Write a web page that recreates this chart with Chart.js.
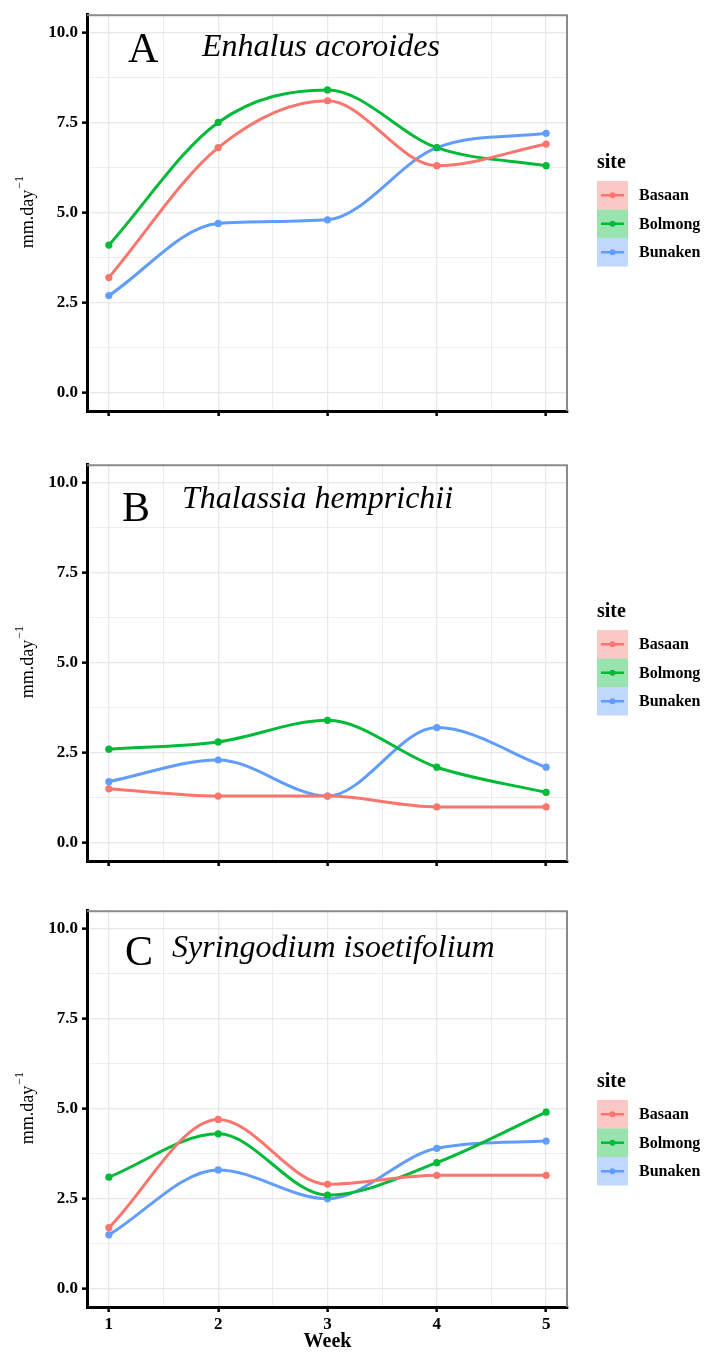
<!DOCTYPE html>
<html>
<head>
<meta charset="utf-8">
<script src="https://cdn.jsdelivr.net/npm/chart.js@4"></script>
<style>
  body { margin: 0; background: #fff; }
  #wrap { position: relative; width: 705px; height: 1354px; }
  canvas { position: absolute; left: 0; }
</style>
</head>
<body>
<div id="wrap">
  <canvas id="cA" width="705" height="450" style="top:0px"></canvas>
  <canvas id="cB" width="705" height="446" style="top:450px"></canvas>
  <canvas id="cC" width="705" height="458" style="top:896px"></canvas>
</div>
<script>
// weekly growth, mm/day
const weeks = [1, 2, 3, 4, 5];
const sites = ['Basaan', 'Bolmong', 'Bunaken'];
const siteColors = ['#F8766D', '#00BA38', '#619CFF'];
const siteFills = ['rgba(248,118,109,0.4)', 'rgba(0,186,56,0.4)', 'rgba(97,156,255,0.4)'];

// A  Enhalus acoroides
const basaanA = [3.2, 6.8, 8.1, 6.3, 6.9];
const bolmongA = [4.1, 7.5, 8.4, 6.8, 6.3];
const bunakenA = [2.7, 4.7, 4.8, 6.8, 7.2];
// B  Thalassia hemprichii
const basaanB = [1.5, 1.3, 1.3, 1.0, 1.0];
const bolmongB = [2.6, 2.8, 3.4, 2.1, 1.4];
const bunakenB = [1.7, 2.3, 1.3, 3.2, 2.1];
// C  Syringodium isoetifolium
const basaanC = [1.7, 4.7, 2.9, 3.15, 3.15];
const bolmongC = [3.1, 4.3, 2.6, 3.5, 4.9];
const bunakenC = [1.5, 3.3, 2.5, 3.9, 4.1];

// ticks (major + minor grid)
const xTicks = [1, 1.5, 2, 2.5, 3, 3.5, 4, 4.5, 5];
const yTicks = [0, 1.25, 2.5, 3.75, 5, 6.25, 7.5, 8.75, 10];
const yMajor = [0, 2.5, 5, 7.5, 10];

const serif = "'Liberation Serif', 'Times New Roman', serif";

const panels = [
    { id: 'cA', letter: 'A', species: 'Enhalus acoroides', letterX: 128, letterY: 62, specX: 202, specY: 56, legendTop: 181, showX: false,
      series: [basaanA, bolmongA, bunakenA] },
    { id: 'cB', letter: 'B', species: 'Thalassia hemprichii', letterX: 122, letterY: 71, specX: 182, specY: 58, legendTop: 180, showX: false,
      series: [basaanB, bolmongB, bunakenB] },
    { id: 'cC', letter: 'C', species: 'Syringodium isoetifolium', letterX: 125, letterY: 69, specX: 172, specY: 61, legendTop: 204, showX: true,
      series: [basaanC, bolmongC, bunakenC] }
];

const isMajorX = v => Number.isInteger(v);
const isMajorY = v => yMajor.includes(v);

// panel border (top/right), titles, y label, legend
const decorPlugin = {
    id: 'decor',
    afterDatasetsDraw(chart, args, opts) {
        const ctx = chart.ctx;
        const a = chart.chartArea;
        ctx.save();
        ctx.strokeStyle = '#8a8a8a';
        ctx.lineWidth = 2;
        ctx.beginPath();
        ctx.moveTo(a.left, a.top + 1);
        ctx.lineTo(a.right - 1, a.top + 1);
        ctx.lineTo(a.right - 1, a.bottom);
        ctx.stroke();

        // panel letter + species
        ctx.fillStyle = '#000';
        ctx.textBaseline = 'alphabetic';
        ctx.textAlign = 'left';
        ctx.font = '42px ' + serif;
        ctx.fillText(opts.letter, opts.letterX, opts.letterY);
        ctx.font = 'italic 32px ' + serif;
        ctx.fillText(opts.species, opts.specX, opts.specY);

        // y axis title with superscript
        const cy = (a.top + a.bottom) / 2;
        ctx.translate(33, cy);
        ctx.rotate(-Math.PI / 2);
        ctx.font = '18px ' + serif;
        const w1 = ctx.measureText('mm.day').width;
        ctx.font = '12px ' + serif;
        const w2 = ctx.measureText('\u22121').width;
        const x0 = -(w1 + w2) / 2;
        ctx.font = '18px ' + serif;
        ctx.fillText('mm.day', x0, 0);
        ctx.font = '12px ' + serif;
        ctx.fillText('\u22121', x0 + w1 + 1, -10);
        ctx.restore();

        // legend
        ctx.save();
        const lx = 597, bw = 31, bh = 28.5;
        ctx.fillStyle = '#000';
        ctx.font = 'bold 20px ' + serif;
        ctx.textBaseline = 'middle';
        ctx.fillText('site', lx, opts.legendTop - 18);
        sites.forEach((s, i) => {
            const y = opts.legendTop + i * bh;
            ctx.fillStyle = siteFills[i];
            ctx.fillRect(lx, y, bw, bh);
            ctx.strokeStyle = siteColors[i];
            ctx.lineWidth = 2.5;
            ctx.beginPath();
            ctx.moveTo(lx + 4, y + bh / 2);
            ctx.lineTo(lx + bw - 4, y + bh / 2);
            ctx.stroke();
            ctx.fillStyle = siteColors[i];
            ctx.beginPath();
            ctx.arc(lx + bw / 2, y + bh / 2, 3, 0, Math.PI * 2);
            ctx.fill();
            ctx.fillStyle = '#000';
            ctx.font = 'bold 16px ' + serif;
            ctx.fillText(s, 639, y + bh / 2 + 1);
        });
        ctx.restore();
    }
};

function makeChart(p) {
    const canvas = document.getElementById(p.id);
    const h = canvas.height;
    new Chart(canvas, {
        type: 'line',
        data: {
            datasets: sites.map((s, i) => ({
                label: s,
                data: weeks.map((w, j) => ({ x: w, y: p.series[i][j] })),
                borderColor: siteColors[i],
                backgroundColor: siteColors[i],
                borderWidth: 3,
                pointRadius: 3.6,
                pointBorderWidth: 0,
                cubicInterpolationMode: 'monotone',
                fill: false
            }))
        },
        options: {
            responsive: false,
            animation: false,
            devicePixelRatio: 1,
            layout: { padding: { top: 9, right: 137, left: 0, bottom: 0 } },
            plugins: {
                legend: { display: false },
                tooltip: { enabled: false },
                decor: p
            },
            scales: {
                x: {
                    type: 'linear',
                    min: 0.8,
                    max: 5.2,
                    afterBuildTicks: sc => { sc.ticks = xTicks.map(v => ({ value: v })); },
                    afterFit: sc => { sc.height = h - 411; },
                    grid: {
                        color: '#e8e8e8',
                        lineWidth: c => isMajorX(c.tick.value) ? 1.3 : 0.8,
                        tickColor: c => isMajorX(c.tick.value) ? '#000' : 'rgba(0,0,0,0)',
                        tickWidth: 2.5,
                        tickLength: 5
                    },
                    border: { display: true, color: '#000', width: 3 },
                    ticks: {
                        display: p.showX,
                        autoSkip: false,
                        maxRotation: 0,
                        padding: 2,
                        color: '#000',
                        font: { family: serif, size: 17, weight: 'bold' },
                        callback: v => isMajorX(v) ? String(v) : ''
                    },
                    title: {
                        display: p.showX,
                        text: 'Week',
                        color: '#000',
                        padding: { top: 0, bottom: 0 },
                        font: { family: serif, size: 20, weight: 'bold' }
                    }
                },
                y: {
                    type: 'linear',
                    min: -0.5,
                    max: 10.5,
                    afterBuildTicks: sc => { sc.ticks = yTicks.map(v => ({ value: v })); },
                    afterFit: sc => { sc.width = 87; },
                    grid: {
                        color: '#e8e8e8',
                        lineWidth: c => isMajorY(c.tick.value) ? 1.3 : 0.8,
                        tickColor: c => isMajorY(c.tick.value) ? '#000' : 'rgba(0,0,0,0)',
                        tickWidth: 2.5,
                        tickLength: 5
                    },
                    border: { display: true, color: '#000', width: 3 },
                    ticks: {
                        autoSkip: false,
                        padding: 4,
                        color: '#000',
                        font: { family: serif, size: 17, weight: 'bold' },
                        callback: v => isMajorY(v) ? v.toFixed(1) : ''
                    }
                }
            }
        },
        plugins: [decorPlugin]
    });
}

panels.forEach(makeChart);
</script>
</body>
</html>
